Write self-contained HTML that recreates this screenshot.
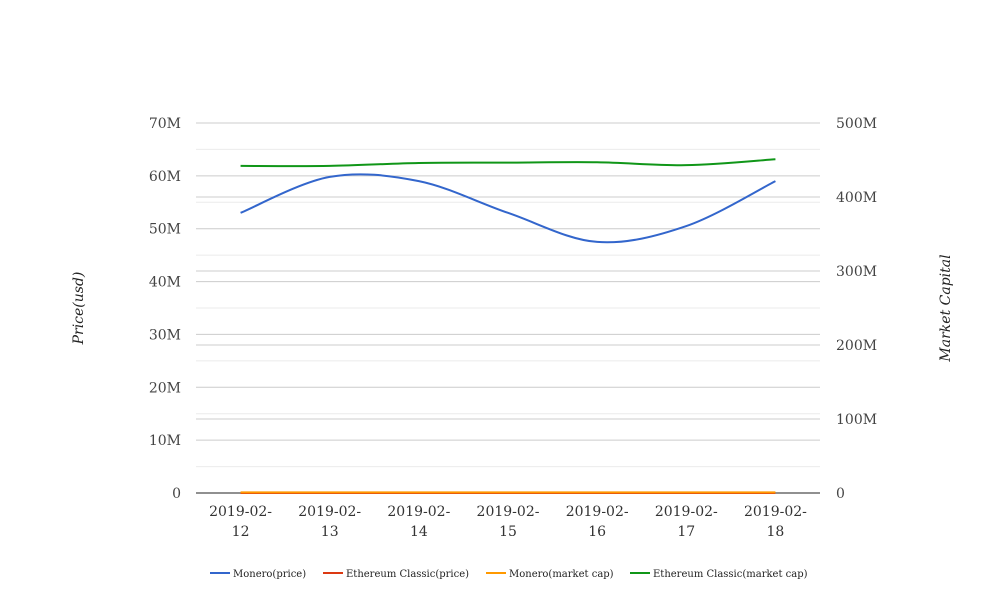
<!DOCTYPE html>
<html><head><meta charset="utf-8"><style>
body{margin:0;background:#fff;}
svg{display:block;font-family:"DejaVu Serif","Liberation Serif",serif;}
</style></head><body>
<svg id="chart" width="1008" height="616">
<g id="grid"></g>
<g id="axes"></g>
<g id="series"></g>
<text transform="translate(83,308) rotate(-90)" text-anchor="middle" font-size="14" font-style="italic" fill="#222">Price(usd)</text>
<text transform="translate(950,308) rotate(-90)" text-anchor="middle" font-size="14" font-style="italic" fill="#222">Market Capital</text>
<g id="legend"></g>
</svg>
<script>
const categories=["2019-02-12","2019-02-13","2019-02-14","2019-02-15","2019-02-16","2019-02-17","2019-02-18"];
const moneroPrice=[53,59.8,59,53,47.5,50.5,59];          // millions, left axis
const etcPrice=[0.004,0.004,0.004,0.004,0.004,0.004,0.004];
const moneroCap=[0.8,0.8,0.8,0.8,0.8,0.8,0.8];           // millions, right axis
const etcCap=[442,442,446,446.5,447,443,451];             // millions, right axis
const leftTicks=[0,10,20,30,40,50,60,70];
const rightTicks=[0,100,200,300,400,500];
const NS="http://www.w3.org/2000/svg";
const X0=196,X1=820,Y0=493,Y1=123;
const band=(X1-X0)/categories.length;
const xs=i=>X0+band*(i+0.5);
const yL=v=>Y0-(v/70)*(Y0-Y1);
const yR=v=>Y0-(v/500)*(Y0-Y1);
function mk(t,a,p){const e=document.createElementNS(NS,t);for(const k in a)e.setAttribute(k,a[k]);p.appendChild(e);return e;}
const grid=document.getElementById('grid'),axes=document.getElementById('axes'),ser=document.getElementById('series'),leg=document.getElementById('legend');
for(let v=5;v<70;v+=10){const l=mk('line',{x1:X0,x2:X1,y1:yL(v),y2:yL(v),stroke:'#ebebeb'},grid);

}
leftTicks.forEach(v=>{const l=mk('line',{x1:X0,x2:X1,y1:yL(v),y2:yL(v),stroke:'#ccc'},grid);


const t=mk('text',{x:181,y:yL(v)+5,'text-anchor':'end','font-size':14,fill:'#444'},axes);t.textContent=v===0?'0':v+'M';

});
rightTicks.forEach(v=>{const l=mk('line',{x1:X0,x2:X1,y1:yR(v),y2:yR(v),stroke:'#ccc'},grid);


const t=mk('text',{x:836,y:yR(v)+5,'font-size':14,fill:'#444'},axes);t.textContent=v===0?'0':v+'M';

});
const base=mk('line',{x1:X0,x2:X1,y1:Y0,y2:Y0,stroke:'#222'},axes);


categories.forEach((c,i)=>{const p=c.split('-');
const t1=mk('text',{x:xs(i),y:516,'text-anchor':'middle','font-size':14,fill:'#333'},axes);t1.textContent=p[0]+'-'+p[1]+'-';


const t2=mk('text',{x:xs(i),y:536,'text-anchor':'middle','font-size':14,fill:'#333'},axes);t2.textContent=p[2];

});
function path(vals,yf){const P=vals.map((v,i)=>[xs(i),yf(v)]);let d='M'+P[0][0]+','+P[0][1];
for(let i=0;i<P.length-1;i++){const p0=P[i-1]||P[i],p1=P[i],p2=P[i+1],p3=P[i+2]||P[i+1];
const c1=[p1[0]+(p2[0]-p0[0])/6,p1[1]+(p2[1]-p0[1])/6],c2=[p2[0]-(p3[0]-p1[0])/6,p2[1]-(p3[1]-p1[1])/6];
d+=` C${c1[0]},${c1[1]} ${c2[0]},${c2[1]} ${p2[0]},${p2[1]}`;}return d;}
const S=[["Monero(price)",moneroPrice,yL,"#3366cc"],["Ethereum Classic(price)",etcPrice,yL,"#dc3912"],["Monero(market cap)",moneroCap,yR,"#ff9900"],["Ethereum Classic(market cap)",etcCap,yR,"#109618"]];
S.forEach(s=>{const p=mk('path',{d:path(s[1],s[2]),fill:'none',stroke:s[3],'stroke-width':2},ser);

});
const lx=[210,323,486,630];
S.forEach((s,i)=>{const g=mk('g',{},leg);


mk('line',{x1:lx[i],x2:lx[i]+20,y1:573,y2:573,stroke:s[3],'stroke-width':2},g);
const t=mk('text',{x:lx[i]+23,y:577,'font-size':10,fill:'#222'},g);t.textContent=s[0];});
</script>
</body></html>
